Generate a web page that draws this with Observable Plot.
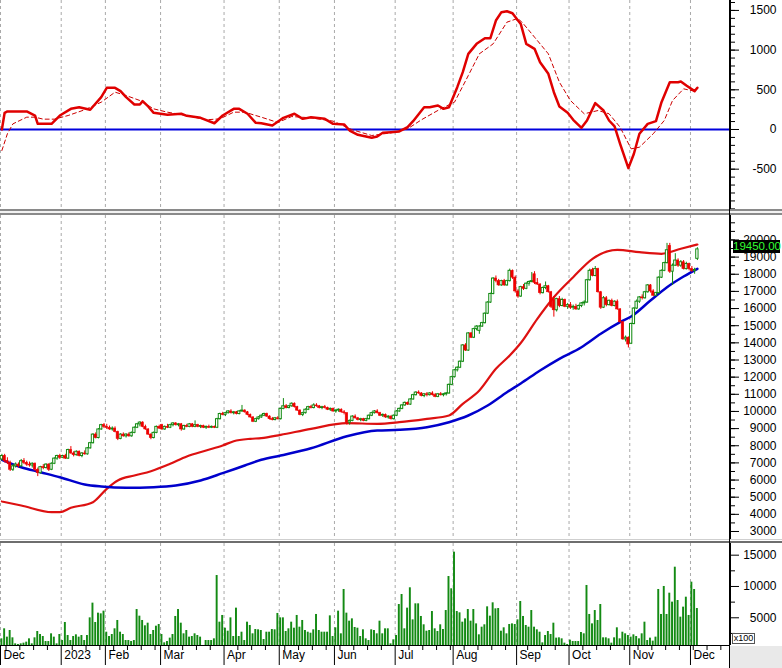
<!DOCTYPE html>
<html><head><meta charset="utf-8">
<script src="https://cdn.jsdelivr.net/npm/d3@7"></script>
<script src="https://cdn.jsdelivr.net/npm/@observablehq/plot@0.6"></script>
<style>
html,body{margin:0;padding:0;background:#fff;}
#wrap{position:relative;width:782px;height:668px;overflow:hidden;background:#fff;font-family:"Liberation Sans",Arial,sans-serif;}
#wrap svg{position:absolute;left:0;display:block;}
.sep{position:absolute;left:0;width:782px;box-sizing:border-box;}
</style></head>
<body><div id="wrap"></div>
<script>
// ---------- data ----------
const monthTicks  = [0,22,38,58,81,101,121,143,164,187,206,228,250];
const monthLabels = ["Dec","2023","Feb","Mar","Apr","May","Jun","Jul","Aug","Sep","Oct","Nov","Dec"];
const weekTicks   = [2,7,12,17,26,31,36,41,46,51,56,61,66,71,76,86,91,96,103,108,113,118,123,128,133,138,148,153,158,163,168,173,178,183,191,196,201,211,216,221,226,231,236,241,246,251,256,261];

// daily candles [open, high, low, close]
const ohlc = [
[7200,7500,7100,7400],[7400,7500,7000,7100],[7100,7300,6900,7000],[7000,7100,6500,6600],[6600,6900,6500,6800],
[6800,7000,6700,6900],[6900,7000,6700,6800],[6800,7200,6750,7100],[7100,7250,6900,7000],[7000,7100,6800,6900],
[6900,7050,6750,6850],[6850,7000,6700,6950],[6950,7000,6500,6600],[6600,6700,6200,6400],[6400,6800,6350,6750],
[6750,6900,6600,6700],[6700,6950,6650,6900],[6900,6950,6500,6600],[6600,7000,6550,6950],[6950,7300,6900,7250],
[7250,7450,7150,7400],[7400,7500,7200,7300],
[7300,7450,7250,7400],[7400,7500,7200,7250],[7250,7800,7200,7750],[7750,7950,7500,7550],[7550,7650,7350,7450],
[7450,7700,7400,7650],[7650,7700,7350,7400],[7400,7600,7300,7550],[7550,7700,7450,7500],[7500,7900,7450,7850],
[7850,8200,7800,8150],[8150,8700,8100,8650],[8650,8750,8400,8450],[8450,9000,8400,8950],[8950,9250,8900,9200],
[9200,9300,9000,9100],
[9100,9250,8950,9050],[9050,9150,8900,8950],[8950,9100,8850,9000],[9000,9100,8750,8800],[8800,8850,8300,8400],
[8400,8700,8350,8650],[8650,8750,8500,8550],[8550,8700,8450,8650],[8650,8750,8500,8550],[8550,8800,8500,8750],
[8750,9100,8700,9050],[9050,9300,9000,9250],[9250,9400,9100,9350],[9350,9400,9050,9100],[9100,9200,8900,8950],
[8950,9000,8600,8650],[8650,8700,8350,8450],[8450,8800,8400,8750],[8750,9150,8700,9100],[9100,9200,8950,9000],
[9200,9250,8900,8950],[8950,9150,8900,9100],[9100,9250,9000,9050],[9050,9250,9000,9200],[9200,9350,9100,9300],
[9300,9350,9150,9200],[9200,9300,9100,9250],[9250,9300,8850,8950],[8950,9200,8900,9150],[9150,9250,9050,9100],
[9100,9300,9050,9250],[9250,9300,9050,9100],[9100,9450,9050,9200],[9200,9250,9050,9100],[9100,9200,9000,9150],
[9150,9200,9000,9050],[9050,9150,8950,9100],[9100,9200,9000,9050],[9050,9150,9000,9100],[9100,9150,9000,9050],
[9050,9600,9000,9550],[9550,9900,9500,9850],[9850,9950,9750,9800],
[9800,9950,9700,9900],[9900,10050,9850,10000],[10000,10100,9850,9900],[9900,10000,9800,9950],[9950,10000,9800,9850],
[9850,10050,9800,10000],[10000,10350,9950,10050],[10050,10100,9900,9950],[9950,10000,9750,9800],[9800,9850,9600,9650],
[9650,9700,9350,9400],[9400,9600,9350,9550],[9550,9700,9500,9650],[9650,9800,9600,9750],[9750,9900,9700,9850],
[9850,9900,9650,9700],[9700,9750,9500,9550],[9550,9650,9450,9500],[9500,9650,9450,9600],[9600,9700,9500,9550],
[9550,10200,9500,10150],[10150,10750,10100,10300],[10300,10400,10150,10200],[10200,10350,10150,10300],[10300,10500,10250,10450],
[10450,10500,10200,10250],[10250,10300,10000,10050],[10050,10100,9750,9800],[9800,9950,9700,9900],[9900,10150,9850,10100],
[10100,10300,10050,10250],[10250,10350,10150,10200],[10200,10450,10150,10350],[10350,10450,10250,10300],[10300,10350,10150,10200],
[10200,10300,10100,10250],[10250,10350,10150,10200],[10200,10250,10050,10100],[10100,10200,10000,10150],[10150,10200,9950,10000],
[10000,10100,9900,10050],[10050,10150,9950,10100],[10100,10150,9900,9950],[9950,10050,9800,9900],[9900,9900,9200,9350],
[9350,9500,9200,9450],[9450,9750,9400,9700],[9700,9800,9550,9600],[9600,9650,9450,9500],[9500,9600,9400,9550],
[9550,9600,9400,9450],[9450,9600,9400,9550],[9550,9800,9500,9750],[9750,9950,9700,9900],[9900,10050,9850,10000],
[10000,10100,9850,9900],[9900,9950,9700,9750],[9750,9850,9650,9800],[9800,9850,9600,9650],[9650,9750,9550,9700],
[9700,9750,9500,9550],[9550,9800,9500,9750],
[9750,10050,9700,10000],[10000,10200,9950,10150],[10150,10400,10100,10350],[10350,10550,10300,10500],[10500,10550,10350,10400],
[10400,10750,10350,10700],[10700,11000,10650,10950],[10950,11150,10900,11100],[11100,11200,11000,11050],[11050,11100,10850,10900],
[10900,11050,10800,11000],[11000,11100,10850,10950],[10950,11100,10900,11050],[11050,11150,10900,10950],[10950,11050,10800,10850],
[10850,11050,10800,11000],[11000,11100,10900,10950],[10950,11050,10850,11000],[11000,11100,10900,11050],[11050,11600,11000,11550],
[11550,12050,11500,12000],
[12000,12450,11950,12400],[12400,12600,12300,12550],[12550,12950,12500,12900],[12900,13900,12850,13850],[13850,13950,13500,13550],
[13550,14600,13500,14550],[14550,14600,14250,14300],[14300,14850,14250,14800],[14800,15000,14700,14950],[14700,15000,14500,14950],
[14950,15200,14900,15150],[15150,15750,15100,15700],[15700,16400,15650,16350],[16350,16900,16300,16850],[16850,17800,16800,17750],
[17750,17900,17500,17600],[17600,17700,17300,17350],[17350,17650,17300,17600],[17600,17700,17300,17350],[17350,17650,17300,17600],
[17600,18300,17550,18200],[18200,18250,17700,17800],[17800,17900,16900,17000],
[17000,17100,16600,16700],[16700,17300,16650,17250],[17250,17400,17050,17150],[17150,17500,17100,17450],[17450,17600,17300,17550],
[17550,18100,17500,17600],[18000,18150,17400,17500],[17500,17750,17350,17400],[17400,17450,16800,16900],[16900,17250,16850,17200],
[17200,17550,17100,17300],[17300,17350,16900,16950],[16950,17000,16000,16100],[16500,16700,15500,15900],[15900,16600,15800,16550],
[16550,16700,16050,16150],[16150,16600,16100,16500],[16500,16550,16050,16100],[16100,16300,15950,16200],
[16200,16350,15950,16050],[16050,16200,15900,16100],[16100,16250,15900,15950],[15950,16200,15900,16150],[16150,16350,16050,16300],
[16300,16450,16150,16350],[16350,17700,16300,17650],[17650,18300,17600,18200],[18250,18350,17850,17900],[17900,18450,17850,18300],
[18300,18350,16900,16950],[16950,17000,15950,16050],[16050,16700,16000,16600],[16600,16700,16100,16200],[16200,16500,16150,16450],
[16450,16550,16100,16150],[16150,16450,16100,16400],[16400,16500,15900,15950],[15950,16000,15150,15200],[15200,15250,14150,14200],
[14200,14400,14050,14300],[14300,14350,13700,13900],
[13950,15150,13900,15100],[15100,16050,15050,16000],[16000,16500,15950,16400],[16400,16700,16300,16650],[16650,16800,16500,16600],
[16600,17000,16550,16950],[16950,17400,16900,17350],[17350,17400,16900,17000],[17000,17100,16700,16750],[16750,16950,16700,16900],
[16900,17850,16850,17800],[17800,18250,17750,18200],[18200,18700,18150,18650],[18650,19800,18600,19400],[19650,19800,18050,18150],
[18150,18600,17350,18500],[18500,19200,18450,18800],[18800,18900,18400,18500],[18500,18800,18400,18700],[18700,18800,18250,18300],
[18300,18700,18250,18600],[18600,18650,18200,18300],
[18300,18450,18100,18200],[18200,18350,18000,18250],[18900,19550,18800,19450]
];

// daily volume (x100)
const volume = [
1640,3240,1910,2970,1800,840,740,840,950,1110,1640,840,1800,2810,2330,2010,1210,1210,2440,1910,840,2330,
1370,4250,2170,1370,2010,2280,1910,2170,1370,2170,4990,7340,4250,5740,5630,6060,
2700,2010,2330,3240,4570,2700,2330,1370,1370,1210,1370,6320,5260,4570,3720,4140,2330,2970,3660,3930,
2330,1000,1210,1750,2330,5210,6320,4140,2440,2970,1910,2010,2440,2170,1910,580,1370,1370,1370,1640,11750,4300,5370,
3340,2860,4990,2010,6540,2010,2700,1370,4300,3770,2440,3130,3080,2970,1530,2700,2700,3130,3080,5690,
4990,4990,2810,3240,4300,3340,5370,3500,4570,2970,2700,2540,3080,5530,2970,2700,2700,2700,5310,2010,
3400,6060,2440,9520,5740,4460,4830,3450,3340,2010,3080,1640,1370,3080,2970,2440,4460,2440,3240,3240,
840,1480,2170,7120,8720,3240,6540,9790,4670,7230,7230,5210,3880,2860,2970,6000,3240,2810,3880,3130,
6160,11590,9630,15480,6000,5790,4300,4830,6320,4460,6320,4030,2280,3500,3880,6750,5260,7390,6430,6480,
2860,3400,2440,3930,4030,3930,4670,7600,5210,3770,3500,6160,3500,3080,2700,1000,2170,2810,2330,4140,
1750,1800,1640,950,740,1430,1210,1210,1210,2650,2440,10160,5530,4030,6160,4570,7120,1800,1800,1640,
950,1800,3400,1640,2700,2440,2170,1910,2280,2010,1640,2440,4300,1370,1750,1270,1910,9520,5530,10000,
5530,8930,7500,13080,7760,5100,6700,8290,5370,10690,9520,6480
];

// oscillator [day, value]
const macdPts = [[0,0],[1,210],[2,227],[9,227],[12,176],[13,71],[18,71],[21,176],[25,260],[28,281],[32,248],[36,407],[38,525],[41,525],[43,483],[45,407],[48,315],[50,315],[51,357],[53,290],[55,210],[60,185],[65,198],[67,172],[72,147],[77,79],[80,176],[84,260],[86,260],[89,198],[92,84],[94,79],[98,50],[102,147],[106,198],[109,134],[112,155],[117,134],[120,71],[124,64],[126,-13],[129,-67],[134,-105],[136,-88],[138,-42],[141,-34],[144,-25],[147,29],[149,105],[153,281],[155,281],[158,302],[160,260],[162,281],[165,533],[167,722],[169,953],[172,1079],[175,1150],[177,1150],[179,1373],[181,1478],[183,1490],[185,1465],[187,1373],[188,1331],[190,1079],[193,1016],[195,848],[198,701],[200,470],[202,290],[205,210],[207,122],[210,21],[212,113],[215,332],[218,239],[220,113],[222,38],[224,-180],[227,-487],[229,-306],[231,-54],[234,71],[237,105],[239,344],[242,596],[245,596],[246,605],[248,554],[251,483],[252,525]];
const signalPts = [[0,-265],[2,-54],[4,71],[9,155],[12,155],[15,130],[19,130],[24,176],[30,248],[36,344],[41,470],[45,428],[50,365],[55,260],[60,218],[67,176],[74,122],[79,134],[84,218],[88,218],[94,155],[100,88],[105,163],[112,147],[120,105],[127,-4],[134,-76],[141,-42],[147,8],[152,122],[159,260],[164,344],[169,680],[173,953],[178,1079],[183,1352],[187,1400],[189,1330],[193,1163],[198,953],[202,596],[206,365],[211,198],[216,239],[220,198],[224,29],[228,-244],[231,-223],[236,-54],[240,113],[243,365],[247,512],[251,483]];

// moving averages [day, value]
const maRed = [[0,4750],[7,4516],[18,4125],[21,4125],[25,4380],[33,4710],[38,5490],[42,5975],[48,6265],[54,6516],[61,6947],[67,7373],[74,7723],[80,8015],[84,8265],[90,8405],[94,8440],[101,8638],[112,8988],[125,9315],[136,9280],[144,9373],[154,9571],[162,9764],[167,10446],[173,11222],[179,12487],[184,13262],[188,13990],[194,15402],[200,16662],[207,17828],[214,18901],[223,19426],[231,19286],[239,19193],[246,19484],[252,19735]];
const maBlue = [[0,7181],[7,6750],[14,6458],[21,6166],[30,5741],[36,5624],[45,5548],[55,5583],[63,5682],[72,5975],[80,6400],[88,6849],[94,7181],[101,7432],[112,7857],[125,8557],[136,8889],[144,8930],[154,9082],[162,9373],[169,9764],[176,10347],[183,11122],[188,11630],[195,12388],[202,13070],[210,13747],[217,14528],[224,15204],[228,15536],[235,16469],[241,17245],[247,17869],[252,18318]];

const macdTicks  = [-500,0,500,1000,1500];
const priceTicks = [3000,4000,5000,6000,7000,8000,9000,10000,11000,12000,13000,14000,15000,16000,17000,18000,19000,20000];
const volTicks   = [5000,10000,15000];
const volMinorTicks = [2500,7500,12500];
const lastPrice = "19450.00";

// ---------- drawing ----------
const W = 782, MR = 52;
const xDomain = [0, 264.5];
const FONT = '"Liberation Sans", Arial, sans-serif';
const wrap = document.getElementById("wrap");
const grid = () => Plot.ruleX(monthTicks, {x: d => d, stroke: "#a9a9a9", strokeDasharray: "3,3", strokeWidth: 1});
const axisLine = () => Plot.ruleX([xDomain[1]], {x: d => d, stroke: "#000", strokeWidth: 1});
const fmt = d => String(d);
function base(h, mb, ydom, marks) {
  return Plot.plot({
    width: W, height: h, marginLeft: 0, marginRight: MR, marginTop: 0, marginBottom: mb,
    x: {domain: xDomain, axis: null},
    y: {domain: ydom, axis: null},
    style: {fontFamily: FONT, fontSize: "12px", background: "transparent", color: "#000", overflow: "visible"},
    marks
  });
}
function place(svg, top) { svg.style.top = top + "px"; wrap.appendChild(svg); }

// Panel 1: oscillator
const p1 = base(209, 0, [-1008, 1625], [
  grid(),
  Plot.ruleY([0], {y: d => d, stroke: "#0000dd", strokeWidth: 2}),
  Plot.line(signalPts, {x: d => d[0] + 0.5, y: d => d[1], stroke: "#cc0000", strokeWidth: 1, strokeDasharray: "4,3"}),
  Plot.line(macdPts, {x: d => d[0] + 0.5, y: d => d[1], stroke: "#e00000", strokeWidth: 2.5}),
  axisLine(),
  Plot.axisY({ticks: d3.range(-1000, 1700, 100), anchor: "right", tickSize: 4, tickFormat: () => ""}),
  Plot.axisY({ticks: macdTicks, anchor: "right", tickSize: 8, tickPadding: 38, textAnchor: "end", tickFormat: fmt, fontSize: 12})
]);
place(p1, 0);

// Panel 2: price
const candles = ohlc.map((r, i) => ({i, o: r[0], h: r[1], l: r[2], c: r[3]}));
const up = candles.filter(d => d.c >= d.o), down = candles.filter(d => d.c < d.o);
const UP = "#118a11", DOWN = "#ee0000";
const p2 = base(325, 0, [2475, 21426], [
  grid(),
  Plot.line(maRed, {x: d => d[0] + 0.5, y: d => d[1], stroke: "#dd1111", strokeWidth: 2.2, curve: "monotone-x"}),
  Plot.line(maBlue, {x: d => d[0] + 0.5, y: d => d[1], stroke: "#0000cc", strokeWidth: 2.5, curve: "monotone-x"}),
  Plot.ruleX(up, {x: d => d.i + 0.5, y1: "l", y2: "h", stroke: UP, strokeWidth: 1}),
  Plot.ruleX(down, {x: d => d.i + 0.5, y1: "l", y2: "h", stroke: DOWN, strokeWidth: 1}),
  Plot.rect(up, {x1: d => d.i + 0.08, x2: d => d.i + 0.92, y1: "o", y2: "c", fill: "#fff", stroke: UP, strokeWidth: 1}),
  Plot.rect(down, {x1: d => d.i + 0.08, x2: d => d.i + 0.92, y1: "o", y2: "c", fill: DOWN, stroke: DOWN, strokeWidth: 0.6}),
  axisLine(),
  Plot.axisY({ticks: d3.range(2500, 21500, 500), anchor: "right", tickSize: 4, tickFormat: () => ""}),
  Plot.axisY({ticks: priceTicks, anchor: "right", tickSize: 8, tickPadding: 38, textAnchor: "end", tickFormat: fmt, fontSize: 12})
]);
place(p2, 215);

// Panel 3: volume + time axis
const volFloor = 575;
const p3 = base(125, 23, [volFloor, 16864], [
  grid(),
  Plot.rect(volume, {x1: (d, i) => i + 0.15, x2: (d, i) => i + 0.85, y1: () => volFloor, y2: d => d, fill: "#138a13"}),
  Plot.ruleY([volFloor], {y: d => d, stroke: "#000", strokeWidth: 1.2}),
  axisLine(),
  Plot.axisY({ticks: volMinorTicks, anchor: "right", tickSize: 4, tickFormat: () => ""}),
  Plot.axisY({ticks: volTicks, anchor: "right", tickSize: 8, tickPadding: 38, textAnchor: "end", tickFormat: fmt, fontSize: 12}),
  Plot.axisX({ticks: weekTicks, anchor: "bottom", tickSize: 5, tickFormat: () => ""}),
  Plot.axisX({ticks: monthTicks, anchor: "bottom", tickSize: 20, tickFormat: () => ""}),
  Plot.text(monthTicks, {x: d => d, text: (d, i) => monthLabels[i], frameAnchor: "bottom", dy: 13, dx: 3, textAnchor: "start", fontSize: 12, fill: "#000"})
]);
place(p3, 543);

// separators, right axis line, boxes
function div(css) { const e = document.createElement("div"); e.style.cssText = "position:absolute;" + css; wrap.appendChild(e); return e; }
div("left:0;top:209px;width:782px;height:6px;background:#f2f2f2;border-top:2px solid #8a8a8a;border-bottom:2px solid #8a8a8a;box-sizing:border-box;");
div("left:0;top:539px;width:782px;height:4px;background:#fff;border-top:1px solid #cfcfcf;border-bottom:2px solid #6e6e6e;box-sizing:border-box;");
div("left:730px;top:646px;width:52px;height:22px;background:#e9e9e9;");
div("left:729px;top:0;width:1px;height:668px;background:#000;");
const box = div("left:733px;top:240px;width:47px;height:13px;background:#000;color:#33ff33;font:11.5px " + FONT + ";line-height:13px;text-align:center;");
box.textContent = lastPrice;
const xb = div("left:732px;top:633px;width:23px;height:11px;background:#fff;border:1px solid #555;box-sizing:border-box;color:#000;font:9px " + FONT + ";line-height:9px;text-align:center;");
xb.textContent = "x100";
</script></body></html>
